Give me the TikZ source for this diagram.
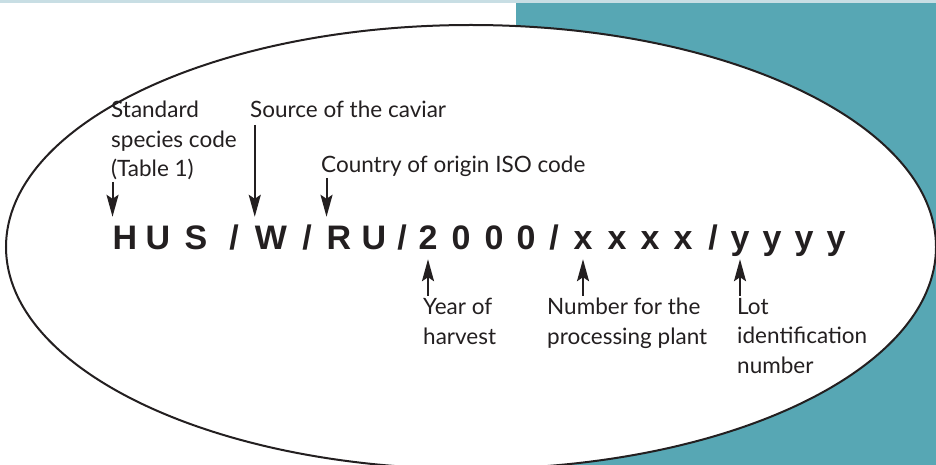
\documentclass[tikz,border=0pt]{standalone}
\usepackage{fontspec}
\setmainfont{Lato}
\newfontfamily\codefont{Liberation Sans}
\usepackage{xcolor}
\usepackage{tikz}
\usetikzlibrary{arrows.meta}

\definecolor{panelteal}{RGB}{87,167,180}
\definecolor{stripblue}{RGB}{200,222,228}
\definecolor{ink}{RGB}{35,31,32}
\newcommand{\codeslash}{/}

\begin{document}
\begin{tikzpicture}[x=1pt,y=-1pt,
    lbl/.style={anchor=base west,align=left,inner sep=2pt,text=ink,
        font=\fontsize{22.5}{29.5}\selectfont},
    codechar/.style={anchor=base,inner sep=0pt,text height=24pt,text depth=0pt,
        text=ink,font=\codefont\bfseries\fontsize{34}{34}\selectfont},
    pointer/.style={line width=2pt,draw=ink,-{Stealth[length=22pt,width=12pt,inset=4pt]}}]
    \useasboundingbox (0,0) rectangle (936,465);

    % Background
    \fill[stripblue] (0,0) rectangle (936,3);
    \fill[panelteal] (516,3) rectangle (936,465);

    % Oval
    \begin{scope}
        \clip (0,0) rectangle (936,465);
        \draw[line width=2pt,draw=ink,fill=white] (471,247) ellipse [x radius=465,y radius=222];
    \end{scope}

    % Code line
    \foreach \ch/\px [count=\i] in {H/125,U/158,S/196,\codeslash/234,W/271,\codeslash/307,
        R/339,U/374,\codeslash/402,2/428,0/461,0/494,0/526,\codeslash/554,
        x/583,x/617,x/650,x/683,\codeslash/713,y/740,y/772,y/804,y/836}
        \node[codechar] (c\i) at (\px,249) {\ch};

    % Labels above (base = last line)
    \node[lbl] (species) at (109,177) {Standard\\species code\\(Table 1)};
    \node[lbl] (source) at (248,118) {Source of the caviar};
    \node[lbl] (country) at (319,173) {Country of origin ISO code};

    % Labels below
    \node[lbl] (year) at (421,344) {Year of\\harvest};
    \node[lbl] (plant) at (545,344) {Number for the\\processing plant};
    \node[lbl] (lot) at (735,373) {Lot\\identification\\number};

    % Arrows down
    \draw[pointer,shorten <=5pt,shorten >=8pt] (species.base -| c1.north west) -- (c1.north west);
    \draw[pointer,shorten <=7pt,shorten >=8pt] (source.base -| c5.north west) -- (c5.north west);
    \draw[pointer,shorten <=5pt,shorten >=8pt] (country.base -| c7.north west) -- (c7.north west);

    % Arrows up
    \draw[pointer,shorten >=10pt] (year.north -| c10.south) -- (c10.south);
    \draw[pointer,shorten >=10pt] (plant.north -| c15.south) -- (c15.south);
    \draw[pointer,shorten >=10pt] (lot.north -| c20.south) -- (c20.south);
\end{tikzpicture}
\end{document}
